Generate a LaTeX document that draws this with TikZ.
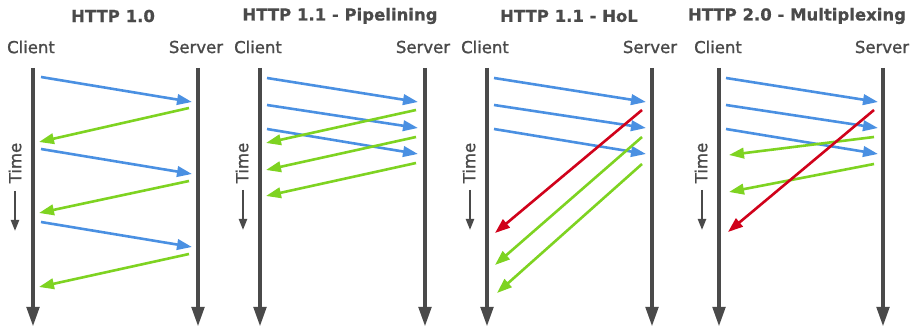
\documentclass[tikz,border=0pt]{standalone}
\usepackage{fontspec}
\setmainfont{DejaVu Sans}
\newfontfamily\medfont{DejaVu Sans}[FakeBold=1.2]
\newfontfamily\titlefont{DejaVu Sans Bold}[FakeBold=0.6]
\usetikzlibrary{arrows.meta}
\definecolor{lanegray}{HTML}{4A4A4A}
\definecolor{reqblue}{HTML}{4A90E2}
\definecolor{resgreen}{HTML}{7ED321}
\definecolor{holred}{HTML}{D0021B}
\begin{document}
\begin{tikzpicture}[x=1pt,y=-1pt,
  lane/.style={draw=lanegray,line width=4.5pt,-{Triangle[length=20pt,width=12pt]}},
  msg/.style={line width=2.6pt,-{Triangle[length=15pt,width=10.5pt]}},
  req/.style={msg,draw=reqblue,fill=reqblue},
  res/.style={msg,draw=resgreen,fill=resgreen},
  hol/.style={msg,draw=holred,fill=holred},
  title/.style={font=\titlefont\fontsize{16.5}{18}\selectfont,text=lanegray,inner sep=0pt},
  party/.style={font=\medfont\fontsize{16.5}{18}\selectfont,text=lanegray,inner sep=0pt},
  timelbl/.style={font=\medfont\fontsize{16.5}{18}\selectfont,text=lanegray,inner sep=0pt,rotate=90},
  timearrow/.style={draw=lanegray,line width=2.2pt,-{Triangle[length=11pt,width=8pt]}}
]
\useasboundingbox (0,0) rectangle (911,328);

% ---------------- Panel 1 : HTTP 1.0
\node[title] (t1) at (113,16) {HTTP 1.0};
\node[party] (cl1) at (31,47) {Client};
\node[party] (sv1) at (196,47) {Server};
\coordinate (c1t) at (33,68); \coordinate (c1b) at (33,327);
\coordinate (s1t) at (198,68); \coordinate (s1b) at (198,327);
\draw[lane] (c1t) -- (c1b);
\draw[lane] (s1t) -- (s1b);
\node[timelbl] (tm1) at (15,163) {Time};
\coordinate (ta1) at (15,191); \coordinate (tb1) at (15,231);
\draw[timearrow] (ta1) -- (tb1);
\coordinate (p1a) at (41,77);  \coordinate (p1b) at (192,102);
\coordinate (p1c) at (189,108); \coordinate (p1d) at (39,142);
\coordinate (p1e) at (41,149); \coordinate (p1f) at (192,174);
\coordinate (p1g) at (189,181); \coordinate (p1h) at (39,213);
\coordinate (p1i) at (41,222); \coordinate (p1j) at (192,247);
\coordinate (p1k) at (189,254); \coordinate (p1l) at (39,287);
\draw[req] (p1a) -- (p1b);
\draw[res] (p1c) -- (p1d);
\draw[req] (p1e) -- (p1f);
\draw[res] (p1g) -- (p1h);
\draw[req] (p1i) -- (p1j);
\draw[res] (p1k) -- (p1l);

% ---------------- Panel 2 : Pipelining
\node[title] (t2) at (340,16) {HTTP 1.1 - Pipelining};
\node[party] (cl2) at (258,47) {Client};
\node[party] (sv2) at (423,47) {Server};
\coordinate (c2t) at (260,68); \coordinate (c2b) at (260,327);
\coordinate (s2t) at (425,68); \coordinate (s2b) at (425,327);
\draw[lane] (c2t) -- (c2b);
\draw[lane] (s2t) -- (s2b);
\node[timelbl] (tm2) at (242,163) {Time};
\coordinate (ta2) at (243,190); \coordinate (tb2) at (243,230);
\draw[timearrow] (ta2) -- (tb2);
\coordinate (p2a) at (267,78);  \coordinate (p2b) at (418,102);
\coordinate (p2c) at (267,105); \coordinate (p2d) at (418,128);
\coordinate (p2e) at (267,129); \coordinate (p2f) at (418,154);
\coordinate (p2g) at (416,110); \coordinate (p2h) at (266,143);
\coordinate (p2i) at (416,137); \coordinate (p2j) at (266,170);
\coordinate (p2k) at (416,163); \coordinate (p2l) at (266,196);
\draw[req] (p2a) -- (p2b);
\draw[req] (p2c) -- (p2d);
\draw[req] (p2e) -- (p2f);
\draw[res] (p2g) -- (p2h);
\draw[res] (p2i) -- (p2j);
\draw[res] (p2k) -- (p2l);

% ---------------- Panel 3 : HoL
\node[title] (t3) at (569,16) {HTTP 1.1 - HoL};
\node[party] (cl3) at (485,47) {Client};
\node[party] (sv3) at (650,47) {Server};
\coordinate (c3t) at (487,68); \coordinate (c3b) at (487,327);
\coordinate (s3t) at (652,68); \coordinate (s3b) at (652,327);
\draw[lane] (c3t) -- (c3b);
\draw[lane] (s3t) -- (s3b);
\node[timelbl] (tm3) at (469,163) {Time};
\coordinate (ta3) at (470,190); \coordinate (tb3) at (470,230);
\draw[timearrow] (ta3) -- (tb3);
\coordinate (p3a) at (494,78);  \coordinate (p3b) at (646,102);
\coordinate (p3c) at (494,105); \coordinate (p3d) at (646,128);
\coordinate (p3e) at (494,129); \coordinate (p3f) at (646,154);
\coordinate (p3g) at (642,110); \coordinate (p3h) at (495,233);
\coordinate (p3i) at (642,137); \coordinate (p3j) at (495,265);
\coordinate (p3k) at (642,164); \coordinate (p3l) at (497,293);
\draw[req] (p3a) -- (p3b);
\draw[req] (p3c) -- (p3d);
\draw[req] (p3e) -- (p3f);
\draw[hol] (p3g) -- (p3h);
\draw[res] (p3i) -- (p3j);
\draw[res] (p3k) -- (p3l);

% ---------------- Panel 4 : Multiplexing
\node[title] (t4) at (797,16) {HTTP 2.0 - Multiplexing};
\node[party] (cl4) at (718,47) {Client};
\node[party] (sv4) at (882,47) {Server};
\coordinate (c4t) at (719,68); \coordinate (c4b) at (719,327);
\coordinate (s4t) at (883,68); \coordinate (s4b) at (883,327);
\draw[lane] (c4t) -- (c4b);
\draw[lane] (s4t) -- (s4b);
\node[timelbl] (tm4) at (701,163) {Time};
\coordinate (ta4) at (702,190); \coordinate (tb4) at (702,230);
\draw[timearrow] (ta4) -- (tb4);
\coordinate (p4a) at (726,78);  \coordinate (p4b) at (878,102);
\coordinate (p4c) at (726,105); \coordinate (p4d) at (878,128);
\coordinate (p4e) at (726,129); \coordinate (p4f) at (878,154);
\coordinate (p4g) at (874,137); \coordinate (p4h) at (729,155);
\coordinate (p4i) at (874,164); \coordinate (p4j) at (729,192);
\coordinate (p4k) at (874,110); \coordinate (p4l) at (728,232);
\draw[req] (p4a) -- (p4b);
\draw[req] (p4c) -- (p4d);
\draw[req] (p4e) -- (p4f);
\draw[res] (p4g) -- (p4h);
\draw[res] (p4i) -- (p4j);
\draw[hol] (p4k) -- (p4l);
\end{tikzpicture}
\end{document}
